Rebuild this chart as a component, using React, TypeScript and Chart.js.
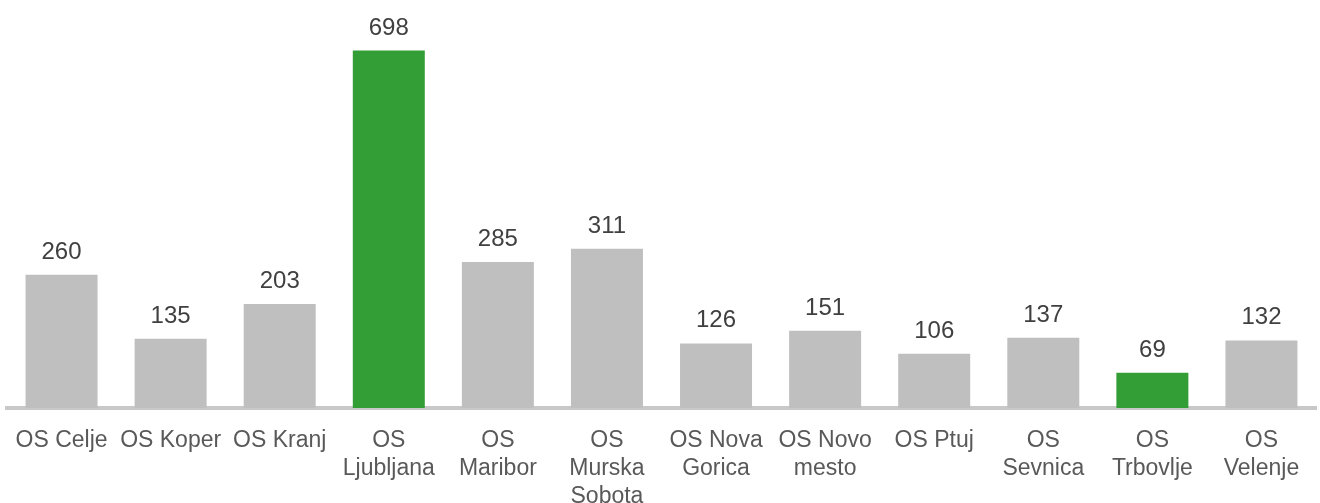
import React, { useEffect, useRef } from "react";
import { Chart, registerables } from "chart.js";

Chart.register(...registerables);

const categories: string[][] = [
  ["OS Celje"],
  ["OS Koper"],
  ["OS Kranj"],
  ["OS", "Ljubljana"],
  ["OS", "Maribor"],
  ["OS", "Murska", "Sobota"],
  ["OS Nova", "Gorica"],
  ["OS Novo", "mesto"],
  ["OS Ptuj"],
  ["OS", "Sevnica"],
  ["OS", "Trbovlje"],
  ["OS", "Velenje"],
];
const values: number[] = [260, 135, 203, 698, 285, 311, 126, 151, 106, 137, 69, 132];
const highlighted: boolean[] = [false, false, false, true, false, false, false, false, false, false, true, false];

const GREY = "#bfbfbf";
const GREEN = "#339e35";
const FONT = "'Liberation Sans', Arial, sans-serif";

const valueLabels = {
  id: "valueLabels",
  afterDatasetsDraw(chart: any) {
    const ctx = chart.ctx;
    const meta = chart.getDatasetMeta(0);
    ctx.save();
    ctx.font = `24px ${FONT}`;
    ctx.fillStyle = "#404040";
    ctx.textAlign = "center";
    ctx.textBaseline = "alphabetic";
    meta.data.forEach((bar: any, i: number) => {
      ctx.fillText(String(values[i]), bar.x, bar.y - 16);
    });
    ctx.restore();
  },
};

export default function App() {
  const ref = useRef<HTMLCanvasElement>(null);
  useEffect(() => {
    if (!ref.current) return;
    const chart = new Chart(ref.current, {
      type: "bar",
      data: {
        labels: categories,
        datasets: [
          {
            data: values,
            backgroundColor: highlighted.map((h) => (h ? GREEN : GREY)),
            categoryPercentage: 1,
            barPercentage: 0.66,
          },
        ],
      },
      options: {
        animation: false,
        responsive: false,
        maintainAspectRatio: false,
        layout: { padding: { top: 6, left: 7, right: 4, bottom: 0 } },
        plugins: { legend: { display: false }, tooltip: { enabled: false } },
        scales: {
          y: { display: false, min: 0, max: 785 },
          x: {
            grid: { display: false, drawTicks: false },
            border: { display: true, color: "#c8c8c8", width: 4 },
            ticks: {
              autoSkip: false,
              maxRotation: 0,
              minRotation: 0,
              padding: 19,
              color: "#595959",
              font: { family: FONT, size: 23, lineHeight: 1.22 },
            },
            afterFit(scale: any) {
              scale.height = 95;
              scale.paddingLeft = 0;
              scale.paddingRight = 0;
            },
          },
        },
      },
      plugins: [valueLabels],
    });
    return () => chart.destroy();
  }, []);
  return (
    <div style={{ position: "fixed", left: 0, top: 0, width: 1320, height: 503, background: "#fff" }}>
      <canvas ref={ref} width={1320} height={503} style={{ width: 1320, height: 503, display: "block" }} />
    </div>
  );
}
